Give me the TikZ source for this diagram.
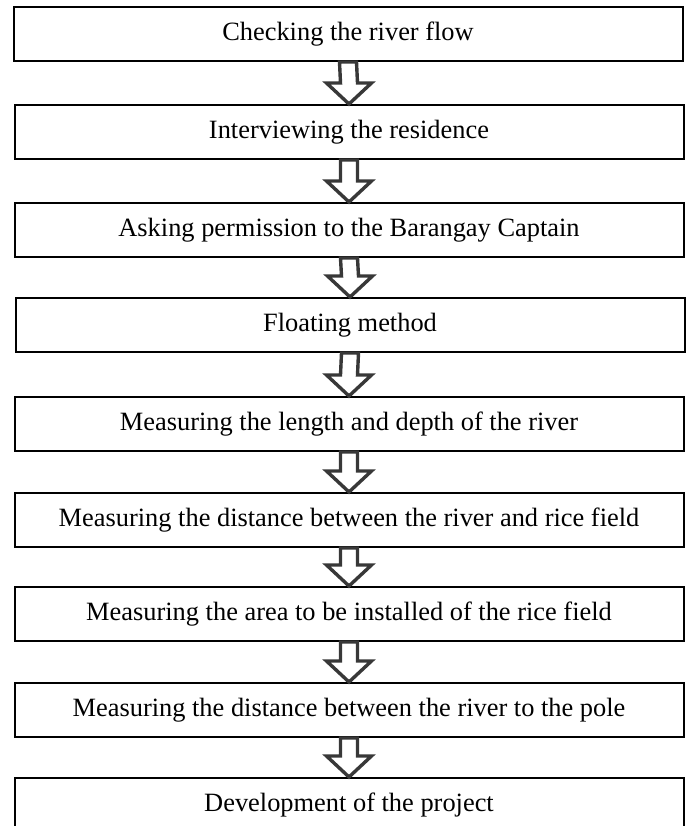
\documentclass[tikz,border=0pt]{standalone}
\usepackage{fontspec}
\setmainfont{Liberation Serif}
\usetikzlibrary{positioning}

\tikzset{
  stepbox/.style={draw=black, line width=1pt, minimum width=334.5pt, minimum height=27pt,
    inner sep=0pt, font=\fontsize{13.2}{15}\selectfont},
  blockarrow/.style={draw=black!78, line width=1.7pt, fill=white, line join=miter}
}

\begin{document}
\begin{tikzpicture}[x=0.5pt,y=-0.5pt]
  \useasboundingbox (0,0) rectangle (689,826);
  \clip (0,0) rectangle (689,826);
  \fill[white] (0,0) rectangle (689,826);
  % the steps
  \node[stepbox] (s1) at (348,34)  {Checking the river flow};
  \node[stepbox] (s2) at (349,132) {Interviewing the residence};
  \node[stepbox] (s3) at (349,230) {Asking permission to the Barangay Captain};
  \node[stepbox] (s4) at (350,325) {Floating method};
  \node[stepbox] (s5) at (349,424) {Measuring the length and depth of the river};
  \node[stepbox] (s6) at (349,520) {Measuring the distance between the river and rice field};
  \node[stepbox] (s7) at (349,614) {Measuring the area to be installed of the rice field};
  \node[stepbox] (s8) at (349,710) {Measuring the distance between the river to the pole};
  \node[stepbox] (s9) at (349,805) {Development of the project};
  % hollow arrows between steps
  \foreach \i/\j in {1/2,2/3,3/4,4/5,5/6,6/7,7/8,8/9}{
    \draw[blockarrow] ([xshift=-4.25pt]s\i.south)
      -- ([xshift=-4.25pt,yshift=10.5pt]s\j.north)
      -- ([xshift=-11.25pt,yshift=10.5pt]s\j.north)
      -- (s\j.north)
      -- ([xshift=11.25pt,yshift=10.5pt]s\j.north)
      -- ([xshift=4.25pt,yshift=10.5pt]s\j.north)
      -- ([xshift=4.25pt]s\i.south) -- cycle;
  }
\end{tikzpicture}
\end{document}
